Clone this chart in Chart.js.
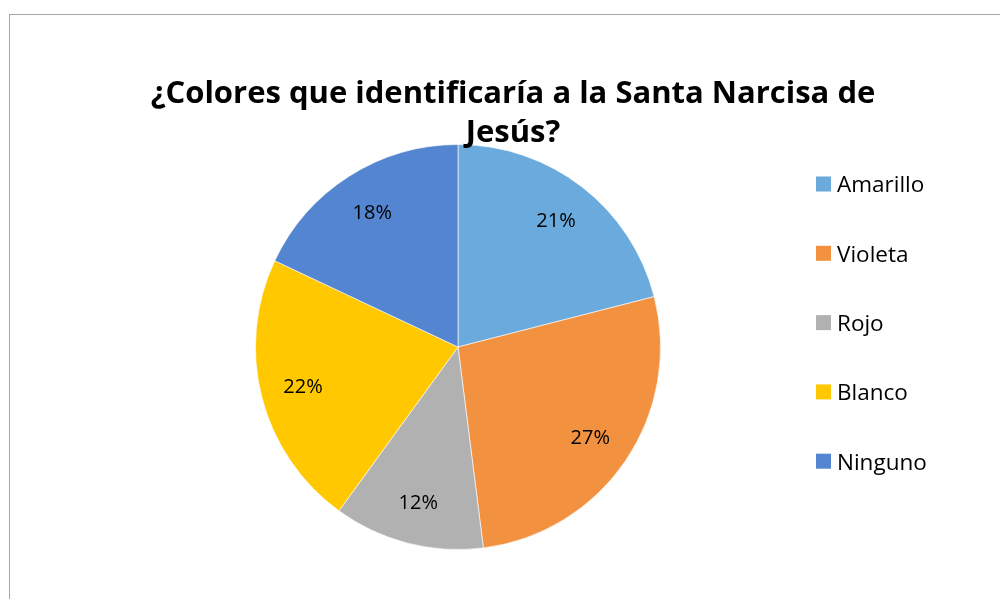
<!DOCTYPE html>
<html>
<head>
<meta charset="utf-8">
<script src="https://cdn.jsdelivr.net/npm/chart.js@4/dist/chart.umd.min.js"></script>
<style>
    html, body { margin: 0; padding: 0; background: #fff; }
    #wrap { position: relative; width: 1000px; height: 599px; overflow: hidden; }
    #frame { position: absolute; left: 9px; top: 14px; width: 1200px; height: 800px;
             border-left: 1px solid #a6a6a6; border-top: 1px solid #a6a6a6; }
    canvas { position: absolute; left: 0; top: 0; }
</style>
</head>
<body>
<div id="wrap">
    <div id="frame"></div>
    <canvas id="pieChart" width="1000" height="599"></canvas>
</div>
<script>
const titleLines = ['¿Colores que identificaría a la Santa Narcisa de', 'Jesús?'];
const labels = ['Amarillo', 'Violeta', 'Rojo', 'Blanco', 'Ninguno'];
const percents = [21, 27, 12, 22, 18];
const colors = ['#6aaadc', '#f29140', '#b1b1b1', '#ffc800', '#5485d0'];

const fontFamily = "'Open Sans', 'Liberation Sans', sans-serif";

// title, legend and percentage labels
const drawExtras = {
    id: 'drawExtras',
    afterDraw(chart) {
        const ctx = chart.ctx;
        ctx.save();

        // percentages inside the slices
        ctx.fillStyle = '#000';
        ctx.font = '20px ' + fontFamily;
        ctx.textAlign = 'center';
        ctx.textBaseline = 'middle';
        chart.getDatasetMeta(0).data.forEach(function (arc, i) {
            const mid = (arc.startAngle + arc.endAngle) / 2;
            const r = arc.outerRadius * 0.79;
            ctx.fillText(percents[i] + '%', arc.x + Math.cos(mid) * r, arc.y + Math.sin(mid) * r + 1);
        });

        // title
        ctx.font = 'bold 31px ' + fontFamily;
        ctx.textBaseline = 'alphabetic';
        ctx.fillText(titleLines[0], 513, 103);
        ctx.fillText(titleLines[1], 513, 142);

        // legend
        ctx.textAlign = 'left';
        ctx.textBaseline = 'middle';
        ctx.font = '22.5px ' + fontFamily;
        for (let i = 0; i < labels.length; i++) {
            const y = 184 + i * 69.3;
            ctx.fillStyle = colors[i];
            ctx.fillRect(816, y - 7.5, 15, 15);
            ctx.fillStyle = '#000';
            ctx.fillText(labels[i], 837, y + 2);
        }
        ctx.restore();
    }
};

new Chart(document.getElementById('pieChart'), {
    type: 'pie',
    data: {
        labels: labels,
        datasets: [{
            data: percents,
            backgroundColor: colors,
            borderColor: 'rgba(255,255,255,0.6)',
            borderWidth: 1
        }]
    },
    options: {
        responsive: false,
        animation: false,
        layout: {
            padding: { left: 255, right: 339, top: 144, bottom: 49 }
        },
        plugins: {
            legend: { display: false },
            title: { display: false },
            tooltip: { enabled: false }
        }
    },
    plugins: [drawExtras]
});
</script>
</body>
</html>
